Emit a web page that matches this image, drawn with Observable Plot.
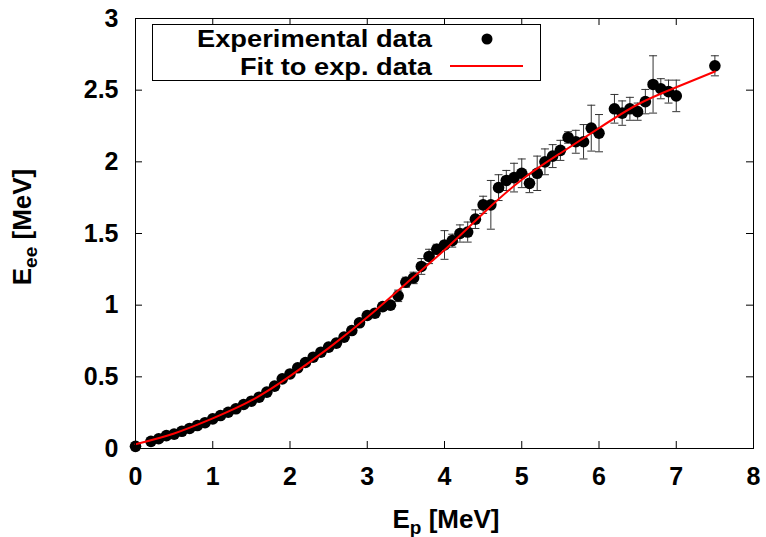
<!DOCTYPE html>
<html>
<head>
<meta charset="utf-8">
<script src="https://cdn.jsdelivr.net/npm/d3@7"></script>
<script src="https://cdn.jsdelivr.net/npm/@observablehq/plot@0.6"></script>
<style>
  html, body { margin: 0; padding: 0; background: #fff; }
  #chart { width: 766px; height: 537px; }
</style>
</head>
<body>
<div id="chart"></div>
<script>
// Experimental data: proton energy Ep [MeV], electron-equivalent energy Eee [MeV], error
const expEp = [0.0, 0.2, 0.3, 0.4, 0.5, 0.6, 0.7, 0.8, 0.9, 1.0,
  1.1, 1.2, 1.3, 1.4, 1.5, 1.6, 1.7, 1.8, 1.9, 2.0,
  2.1, 2.2, 2.3, 2.4, 2.5, 2.6, 2.7, 2.8, 2.9, 3.0,
  3.1, 3.2, 3.3, 3.4, 3.5, 3.6, 3.7, 3.8, 3.9, 4.0,
  4.1, 4.2, 4.3, 4.4, 4.5, 4.6, 4.7, 4.8, 4.9, 5.0,
  5.1, 5.2, 5.3, 5.4, 5.5, 5.6, 5.7, 5.8, 5.9, 6.0,
  6.2, 6.3, 6.4, 6.5, 6.6, 6.7, 6.8, 6.9, 7.0, 7.5];
const expEee = [0.015, 0.05, 0.068, 0.09, 0.10, 0.12, 0.14, 0.16, 0.18, 0.207,
  0.23, 0.253, 0.277, 0.307, 0.33, 0.358, 0.393, 0.435, 0.486, 0.52,
  0.563, 0.60, 0.637, 0.672, 0.707, 0.735, 0.777, 0.823, 0.877, 0.928,
  0.944, 0.99, 1.00, 1.065, 1.16, 1.19, 1.27, 1.34, 1.39, 1.42,
  1.45, 1.50, 1.51, 1.60, 1.70, 1.70, 1.82, 1.87, 1.89, 1.92,
  1.85, 1.92, 2.00, 2.04, 2.08, 2.17, 2.14, 2.14, 2.235, 2.20,
  2.37, 2.34, 2.37, 2.35, 2.42, 2.54, 2.51, 2.49, 2.46, 2.67];
const expErr = [0.01, 0.01, 0.01, 0.01, 0.01, 0.01, 0.01, 0.01, 0.01, 0.01,
  0.01, 0.01, 0.01, 0.01, 0.01, 0.01, 0.01, 0.015, 0.015, 0.015,
  0.015, 0.015, 0.015, 0.015, 0.02, 0.02, 0.02, 0.02, 0.02, 0.02,
  0.02, 0.025, 0.025, 0.04, 0.035, 0.04, 0.055, 0.05, 0.035, 0.10,
  0.045, 0.06, 0.07, 0.065, 0.06, 0.17, 0.09, 0.07, 0.10, 0.10,
  0.065, 0.12, 0.09, 0.08, 0.07, 0.04, 0.08, 0.12, 0.16, 0.13,
  0.10, 0.085, 0.08, 0.06, 0.085, 0.20, 0.07, 0.08, 0.11, 0.07];

const fitEp  = [0, 0.5, 1.0, 1.5, 2.0, 2.5, 3.0, 3.5, 4.0, 4.5, 5.0, 5.5, 6.0, 6.5, 7.0, 7.5];
const fitEee = [0.03, 0.105, 0.21, 0.335, 0.505, 0.70, 0.915, 1.15, 1.385, 1.64, 1.875, 2.06, 2.235, 2.40, 2.52, 2.63];

const xTicks = [0, 1, 2, 3, 4, 5, 6, 7, 8];
const yTicks = [0, 0.5, 1, 1.5, 2, 2.5, 3];
const legendLabels = ["Experimental data", "Fit to exp. data"];

const expData = expEp.map((x, i) => ({x, y: expEee[i], e: expErr[i]}));
const fitData = fitEp.map((x, i) => ({x, y: fitEee[i]}));

const W = 766, H = 537;
const M = {left: 135, right: 13, top: 18, bottom: 89};
const innerH = H - M.top - M.bottom;
const innerW = W - M.left - M.right;
const TICK = 7;

const capSymbol = {
  draw(ctx, size) {
    const r = Math.sqrt(size / Math.PI);
    ctx.moveTo(-r, 0);
    ctx.lineTo(r, 0);
  }
};

const FONT = "'Liberation Sans', Arial, Helvetica, sans-serif";

const chart = Plot.plot({
  width: W,
  height: H,
  marginLeft: M.left,
  marginRight: M.right,
  marginTop: M.top,
  marginBottom: M.bottom,
  style: {fontFamily: FONT, fontWeight: "bold", fontSize: "25px", color: "#000", background: "#fff", overflow: "visible"},
  x: {domain: [0, 8], ticks: xTicks, tickSize: 0, tickPadding: 19, label: null, tickFormat: d3.format("d")},
  y: {domain: [0, 3], ticks: yTicks, tickSize: 0, tickPadding: 17, label: null, tickFormat: d => String(d)},
  marks: [
    // inward ticks on all four sides
    Plot.tickX(xTicks, {x: d => d, insetTop: innerH - TICK, stroke: "#000"}),
    Plot.tickX(xTicks, {x: d => d, insetBottom: innerH - TICK, stroke: "#000"}),
    Plot.tickY(yTicks, {y: d => d, insetRight: innerW - TICK, stroke: "#000"}),
    Plot.tickY(yTicks, {y: d => d, insetLeft: innerW - TICK, stroke: "#000"}),
    // error bars
    Plot.ruleX(expData, {x: "x", y1: d => d.y - d.e, y2: d => d.y + d.e, stroke: "#333", strokeWidth: 1}),
    Plot.dot(expData, {x: "x", y: d => d.y - d.e, symbol: capSymbol, r: 4, fill: "none", stroke: "#333", strokeWidth: 1}),
    Plot.dot(expData, {x: "x", y: d => d.y + d.e, symbol: capSymbol, r: 4, fill: "none", stroke: "#333", strokeWidth: 1}),
    // points
    Plot.dot(expData, {x: "x", y: "y", r: 5.8, fill: "#000", stroke: "none"}),
    // fit
    Plot.line(fitData, {x: "x", y: "y", curve: "natural", stroke: "#ff0000", strokeWidth: 2}),
    Plot.frame({stroke: "#000", strokeWidth: 1})
  ]
});

document.getElementById("chart").appendChild(chart);

// Legend, axis titles
const svg = d3.select(chart);
const lg = svg.append("g").attr("font-family", FONT).attr("font-weight", "bold").attr("font-size", 23);
lg.append("rect").attr("x", 152.5).attr("y", 24.5).attr("width", 388).attr("height", 56)
  .attr("fill", "#fff").attr("stroke", "#000").attr("stroke-width", 1);
lg.append("text").attr("x", 432).attr("y", 47).attr("text-anchor", "end")
  .attr("textLength", 235).attr("lengthAdjust", "spacingAndGlyphs").text(legendLabels[0]);
lg.append("text").attr("x", 432).attr("y", 75).attr("text-anchor", "end")
  .attr("textLength", 192).attr("lengthAdjust", "spacingAndGlyphs").text(legendLabels[1]);
lg.append("circle").attr("cx", 487).attr("cy", 39).attr("r", 5.5).attr("fill", "#000");
lg.append("line").attr("x1", 450).attr("x2", 523).attr("y1", 66).attr("y2", 66)
  .attr("stroke", "#ff0000").attr("stroke-width", 2);

const xt = svg.append("text").attr("font-family", FONT).attr("font-weight", "bold").attr("font-size", 26)
  .attr("x", 446).attr("y", 528).attr("text-anchor", "middle").attr("fill", "#000");
xt.append("tspan").text("E");
xt.append("tspan").attr("font-size", 19).attr("dy", 6).text("p");
xt.append("tspan").attr("dy", -6).text(" [MeV]");

const yt = svg.append("text").attr("font-family", FONT).attr("font-weight", "bold").attr("font-size", 26)
  .attr("transform", "translate(31,227) rotate(-90)").attr("text-anchor", "middle").attr("fill", "#000");
yt.append("tspan").text("E");
yt.append("tspan").attr("font-size", 19).attr("dy", 6).text("ee");
yt.append("tspan").attr("dy", -6).text(" [MeV]");
</script>
</body>
</html>
